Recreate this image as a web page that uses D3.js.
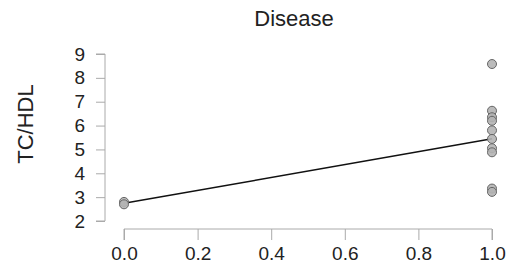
<!DOCTYPE html>
<html>
<head>
<meta charset="utf-8">
<script src="https://cdn.jsdelivr.net/npm/d3@7"></script>
<style>
body { margin: 0; background: #fff; }
text { font-family: "Liberation Sans", Arial, sans-serif; fill: #222; }
</style>
</head>
<body>
<div id="chart"></div>
<script>
var width = 529;
var height = 276;

// data
var title = "Disease";
var yLabel = "TC/HDL";
var xTicks = [0, 0.2, 0.4, 0.6, 0.8, 1.0];
var yTicks = [2, 3, 4, 5, 6, 7, 8, 9];
var groupX = [0, 0, 1, 1, 1, 1, 1, 1, 1, 1, 1, 1];
var ratio = [2.8, 2.7, 8.58, 6.62, 6.35, 6.2, 5.8, 5.44, 5.05, 4.88, 3.36, 3.22];
var fitLine = [{x: 0, y: 2.74}, {x: 1, y: 5.45}];

var x = d3.scaleLinear().domain([0, 1]).range([124, 492]);
var y = d3.scaleLinear().domain([2, 9]).range([221, 54]);

var svg = d3.select("#chart").append("svg")
  .attr("width", width)
  .attr("height", height);

svg.append("text")
  .attr("x", 294)
  .attr("y", 26)
  .attr("text-anchor", "middle")
  .style("font-size", "22px")
  .text(title);

svg.append("text")
  .attr("transform", "translate(33,124) rotate(-90)")
  .attr("text-anchor", "middle")
  .style("font-size", "22px")
  .text(yLabel);

var yAxis = svg.append("g")
  .attr("transform", "translate(105,0)")
  .call(d3.axisLeft(y).tickValues(yTicks).tickFormat(d3.format("d")).tickSize(9).tickPadding(11));

var xAxis = svg.append("g")
  .attr("transform", "translate(0,229)")
  .call(d3.axisBottom(x).tickValues(xTicks).tickFormat(d3.format(".1f")).tickSize(11).tickPadding(7));

[yAxis, xAxis].forEach(function(g) {
  g.select(".domain").attr("stroke", "#aaa");
  g.selectAll(".tick line").attr("stroke", "#aaa");
  g.selectAll(".tick text").style("font-size", "19px").attr("fill", "#222");
});
// R style axes: domain only spans first to last tick
yAxis.select(".domain").attr("d", "M-9," + y(2) + "H0V" + y(9) + "H-9");
xAxis.select(".domain").attr("d", "M" + x(0) + ",11V0H" + x(1) + "V11");

svg.append("path")
  .datum(fitLine)
  .attr("fill", "none")
  .attr("stroke", "#111")
  .attr("stroke-width", 1.5)
  .attr("d", d3.line().x(function(d) { return x(d.x); }).y(function(d) { return y(d.y); }));

svg.selectAll(".pt")
  .data(ratio)
  .enter()
  .append("circle")
  .attr("class", "pt")
  .attr("cx", function(d, i) { return x(groupX[i]); })
  .attr("cy", function(d) { return y(d); })
  .attr("r", 4.5)
  .attr("fill", "#b4b4b4")
  .attr("fill-opacity", 0.9)
  .attr("stroke", "#666")
  .attr("stroke-width", 1);
</script>
</body>
</html>
